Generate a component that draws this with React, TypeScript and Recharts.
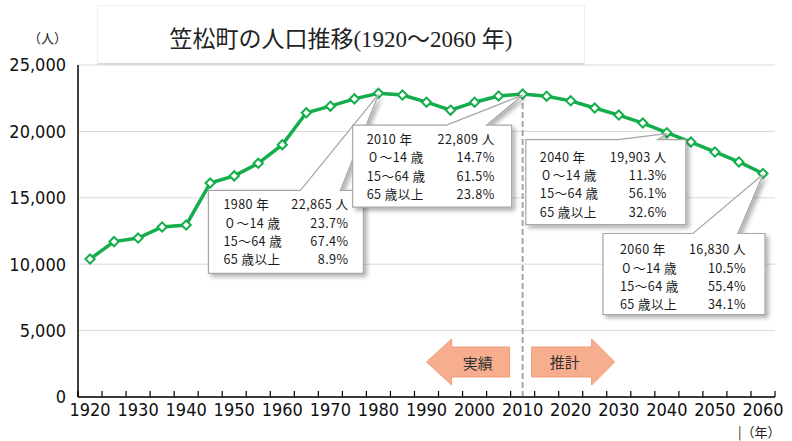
import { LineChart, Line, XAxis, YAxis, CartesianGrid, ReferenceLine } from 'recharts';

// 笠松町の人口推移 (1920-2060, 5-year steps)
const years = [
  1920, 1925, 1930, 1935, 1940, 1945, 1950, 1955, 1960, 1965,
  1970, 1975, 1980, 1985, 1990, 1995, 2000, 2005, 2010, 2015,
  2020, 2025, 2030, 2035, 2040, 2045, 2050, 2055, 2060,
];
const population = [
  10390, 11700, 11970, 12800, 12950, 16110, 16650, 17600, 19000, 21400,
  21900, 22450, 22865, 22740, 22200, 21600, 22200, 22670, 22809, 22650,
  22300, 21760, 21230, 20630, 19903, 19200, 18450, 17700, 16830,
];
const labelYears = [1920, 1930, 1940, 1950, 1960, 1970, 1980, 1990, 2000, 2010, 2020, 2030, 2040, 2050, 2060];
const yTicks = [0, 5000, 10000, 15000, 20000, 25000];
const splitYear = 2010;

const calloutYears = [1980, 2010, 2040, 2060];
const share0to14 = ['23.7%', '14.7%', '11.3%', '10.5%'];
const share15to64 = ['67.4%', '61.5%', '56.1%', '55.4%'];
const share65plus = ['8.9%', '23.8%', '32.6%', '34.1%'];

const data = years.map((year, i) => ({ year, population: population[i] }));
// tick marks sit on the category boundaries, labels in the middle
const boundaryTicks = [...years.map((y) => y - 2.5), years[years.length - 1] + 2.5];
const xTicks = [...boundaryTicks, ...labelYears].sort((a, b) => a - b);

const GREEN = '#13ae4b';
const narrow = "'Liberation Sans Narrow', 'DejaVu Sans Condensed', 'Liberation Sans', sans-serif";
const jp = "'Noto Sans CJK JP', sans-serif";
const ROW = 18.3;

// box offsets relative to the data point: [x, y, w, h], wedge base, text columns
const calloutLayout = [
  { box: [-170, 97, 155, 83], base: [-78, -38], left: -155, right: -30, first: 116 },
  { box: [-170, 31, 159, 82], base: [-76, -36], left: -156, right: -28, first: 50 },
  { box: [-141, 7, 160, 85], base: [-49, -9], left: -127, right: 0, first: 29 },
  { box: [-160, 60, 162, 81], base: [-70, -25], left: -143, right: -17, first: 81 },
];

const fmt = (v: number) => v.toLocaleString('en-US');

const XTick = (props: any) => {
  const { x, y, payload } = props;
  const v = payload.value;
  if (v % 10 === 0) {
    return (
      <text x={x} y={y + 19} textAnchor="middle" fontFamily={narrow} fontSize={18} fill="#111">
        {v}
      </text>
    );
  }
  if (v % 5 !== 0) {
    return <line x1={x} x2={x} y1={y} y2={y - 6} stroke="#000" strokeWidth={1.2} />;
  }
  return null;
};

const Diamond = (props: any) => {
  const { cx, cy } = props;
  if (cx == null || cy == null) return null;
  const r = 4.6;
  return (
    <polygon
      points={`${cx},${cy - r} ${cx + r},${cy} ${cx},${cy + r} ${cx - r},${cy}`}
      fill="#fff"
      stroke={GREEN}
      strokeWidth={2}
    />
  );
};

const Callout = (props: any) => {
  const { x, y, index } = props;
  const year = years[index];
  const k = calloutYears.indexOf(year);
  if (k < 0 || x == null || y == null) return null;
  const L = calloutLayout[k];
  const [bx, by, bw, bh] = L.box;
  const [b0, b1] = L.base;
  const d = `M${bx},${by} L${b0},${by} L0,1 L${b1},${by} L${bx + bw},${by} L${bx + bw},${by + bh} L${bx},${by + bh} Z`;
  const rows = [
    [`${year} 年`, `${fmt(population[index])} 人`],
    ['０～14 歳', share0to14[k]],
    ['15～64 歳', share15to64[k]],
    ['65 歳以上', share65plus[k]],
  ];
  const fid = `shadow-${year}`;
  return (
    <g transform={`translate(${x},${y})`}>
      <defs>
        <filter id={fid} x="-20%" y="-20%" width="140%" height="140%">
          <feDropShadow dx={3} dy={3} stdDeviation={2} floodColor="#000" floodOpacity={0.3} />
        </filter>
      </defs>
      <path d={d} fill="#fff" stroke="#a6a6a6" strokeWidth={1.2} filter={`url(#${fid})`} />
      {rows.map((r, i) => (
        <text key={i} y={L.first + i * ROW} fontFamily={jp} fontSize={12.6} letterSpacing={0.4} fill="#1a1a1a">
          <tspan x={L.left}>{r[0]}</tspan>
          <tspan x={L.right} textAnchor="end">{r[1]}</tspan>
        </text>
      ))}
    </g>
  );
};

const FlowArrows = (props: any) => {
  const vb = props.viewBox || {};
  const x0 = vb.x;
  const b = vb.y + vb.height;
  if (x0 == null || isNaN(b)) return null;
  const left = `M${x0 - 96},${b - 35} L${x0 - 71},${b - 58} L${x0 - 71},${b - 50} L${x0 - 13},${b - 50} L${x0 - 13},${b - 20} L${x0 - 71},${b - 20} L${x0 - 71},${b - 12} Z`;
  const right = `M${x0 + 9},${b - 50} L${x0 + 69},${b - 50} L${x0 + 69},${b - 58} L${x0 + 92},${b - 35} L${x0 + 69},${b - 12} L${x0 + 69},${b - 20} L${x0 + 9},${b - 20} Z`;
  return (
    <g>
      <path d={left} fill="#f7ae8f" stroke="#ef9a76" strokeWidth={1} />
      <path d={right} fill="#f7ae8f" stroke="#ef9a76" strokeWidth={1} />
      <text x={x0 - 45} y={b - 35} textAnchor="middle" dominantBaseline="central" fontFamily={jp} fontSize={15} fill="#333">
        実績
      </text>
      <text x={x0 + 42} y={b - 36} textAnchor="middle" dominantBaseline="central" fontFamily={jp} fontSize={15} fill="#333">
        推計
      </text>
    </g>
  );
};

export default function App() {
  return (
    <div style={{ position: 'absolute', left: 0, top: 0, width: 792, height: 441, background: '#fff' }}>
      <LineChart width={792} height={441} data={data} margin={{ top: 65, right: 17, bottom: 0, left: 0 }}>
        <CartesianGrid vertical={false} stroke="#d9d9d9" />
        <XAxis
          dataKey="year"
          type="number"
          domain={[1917.5, 2062.5]}
          ticks={xTicks}
          interval={0}
          height={44}
          axisLine={{ stroke: '#000', strokeWidth: 1.5 }}
          tickLine={false}
          tickSize={0}
          tickMargin={0}
          tick={<XTick />}
        />
        <YAxis
          type="number"
          domain={[0, 25000]}
          ticks={yTicks}
          width={78}
          axisLine={{ stroke: '#000', strokeWidth: 1.5 }}
          tickLine={false}
          tickSize={0}
          tickMargin={12}
          tickFormatter={fmt}
          tick={{ fontFamily: narrow, fontSize: 18, fill: '#111' }}
        />
        <ReferenceLine
          segment={[
            { x: splitYear, y: population[years.indexOf(splitYear)] },
            { x: splitYear, y: 0 },
          ]}
          stroke="#a6a6a6"
          strokeWidth={2}
          strokeDasharray="6 3"
          label={<FlowArrows />}
        />
        <Line
          dataKey="population"
          stroke={GREEN}
          strokeWidth={3.5}
          dot={<Diamond />}
          activeDot={false}
          isAnimationActive={false}
          label={<Callout />}
        />
      </LineChart>
      <div
        style={{
          position: 'absolute', left: 97, top: 5, width: 488, height: 60,
          background: '#fff', border: '1px solid #efefef', borderBottom: '2px solid #dadada',
          display: 'flex', alignItems: 'center', justifyContent: 'center',
          fontFamily: "'Liberation Serif', 'Noto Sans CJK JP', serif", fontSize: 23, color: '#222',
          paddingTop: 4, boxSizing: 'border-box',
        }}
      >
        笠松町の人口推移(1920～2060 年)
      </div>
      <div style={{ position: 'absolute', left: 28, top: 30, fontFamily: jp, fontSize: 13, lineHeight: '16px', color: '#222' }}>
        （人）
      </div>
      <div style={{ position: 'absolute', left: 738, top: 424, fontFamily: jp, fontSize: 13, lineHeight: '15px', color: '#222' }}>
        |（年）
      </div>
    </div>
  );
}
